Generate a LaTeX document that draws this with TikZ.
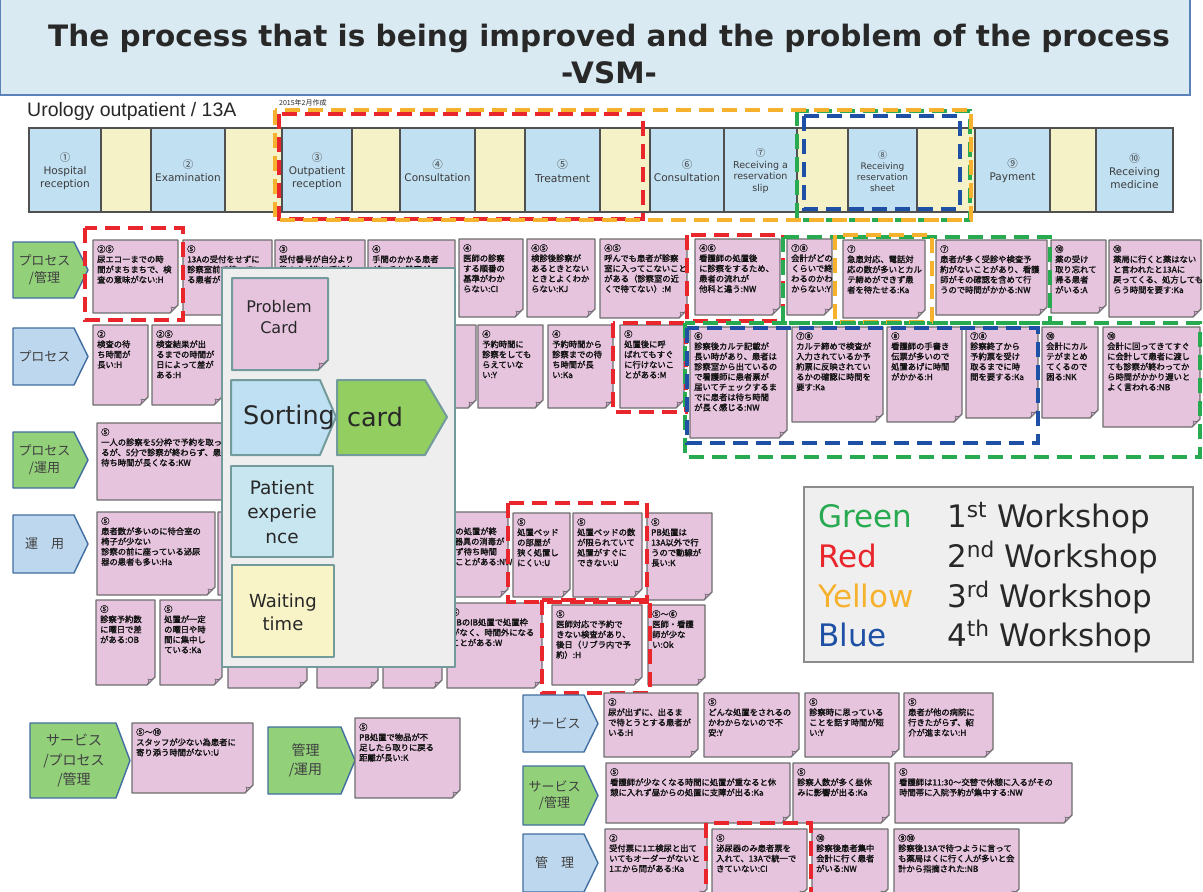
\documentclass[tikz,border=0pt]{standalone}
\usepackage{fontspec}
\usepackage{graphicx}
\setmainfont{DejaVu Sans}
\newfontfamily\jp{Noto Sans CJK JP}
\newfontfamily\jpb[FakeBold=2]{Noto Sans CJK JP}
\newfontfamily\dv{DejaVu Sans}
\newfontfamily\lib{Liberation Sans}
\definecolor{notefill}{RGB}{230,196,222}
\definecolor{notedraw}{RGB}{110,110,110}
\definecolor{foldfill}{RGB}{200,160,200}
\definecolor{notetxt}{RGB}{20,20,20}
\definecolor{pblue}{RGB}{193,224,242}
\definecolor{pyel}{RGB}{246,242,200}
\definecolor{pdraw}{RGB}{80,80,80}
\definecolor{ptxt}{RGB}{60,60,60}
\definecolor{lgreen}{RGB}{146,208,122}
\definecolor{lblue}{RGB}{189,215,238}
\definecolor{lbldraw}{RGB}{65,110,160}
\definecolor{lbltxt}{RGB}{64,64,64}
\definecolor{ovfill}{RGB}{238,238,238}
\definecolor{ovdraw}{RGB}{115,155,155}
\definecolor{sortblue}{RGB}{190,224,242}
\definecolor{cardgreen}{RGB}{146,206,96}
\definecolor{patfill}{RGB}{200,230,240}
\definecolor{waitfill}{RGB}{248,244,200}
\definecolor{titlefill}{RGB}{218,234,243}
\definecolor{titledraw}{RGB}{90,130,185}
\definecolor{legfill}{RGB}{239,239,239}
\definecolor{legdraw}{RGB}{140,140,140}
\definecolor{darktxt}{RGB}{40,40,40}
\definecolor{wgreen}{RGB}{40,170,80}
\definecolor{wred}{RGB}{232,38,43}
\definecolor{worange}{RGB}{246,178,46}
\definecolor{wblue}{RGB}{30,80,165}
\tikzset{
 stknote/.style={fill=notefill,draw=notedraw,line width=1.2pt,line join=round},
 stkfold/.style={fill=foldfill,draw=notedraw,line width=0.6pt,line join=round},
 notetext/.style={anchor=north west,inner sep=0pt,align=left,text=notetxt,font=\jpb\fontsize{8.3}{10.2}\selectfont},
 hl/.style={line width=4.5pt,dash pattern=on 15pt off 8pt},
 lblshape/.style={draw=lbldraw,line width=1.4pt,line join=round},
 lbltext/.style={align=center,text=lbltxt,inner sep=0pt},
 pstyle/.style={draw=pdraw,line width=1.1pt},
 ptext/.style={align=center,text=ptxt,inner sep=0pt},
 titletext/.style={inner sep=0pt,text=darktxt,font=\dv\bfseries\fontsize{29.5}{35}\selectfont},
 legtext/.style={anchor=base west,inner sep=0pt,font=\dv\fontsize{31}{36}\selectfont},
 ovbox/.style={draw=ovdraw,line width=2pt,line join=round},
 ovtext/.style={align=center,text=darktxt,inner sep=0pt},
}
\newcommand{\cn}[1]{{\jp #1}}
% sticky note: name, x1, y1, x2, y2, text
\newcommand{\stk}[6]{%
 \path[stknote] (#2,#3) -- (#4,#3) -- (#4,#5-8) -- (#4-8,#5) -- (#2,#5) -- cycle;
 \path[stkfold] (#4,#5-8) .. controls (#4-3,#5-5) .. (#4-7,#5-6) .. controls (#4-6,#5-3) .. (#4-8,#5) -- cycle;
 \node[notetext] (#1) at (#2+4,#3+5) {#6};
}
% row label: name, x1, y1, x2, y2, fill, text, font sizes
\newcommand{\rlab}[8]{%
 \path[lblshape,fill=#6] (#2,#3) -- (#4-14,#3) -- (#4,{(#3+#5)/2}) -- (#4-14,#5) -- (#2,#5) -- cycle;
 \node[lbltext,font=\jp\fontsize#8\selectfont] (#1) at ({(#2+#4)/2-6},{(#3+#5)/2}) {#7};
}
% process box: name, x1, x2, fill, text, font sizes
\newcommand{\pb}[6]{%
 \draw[pstyle,fill=#4] (#2,128) rectangle (#3,212);
 \node[ptext,font=\dv\fontsize#6\selectfont] (#1) at ({(#2+#3)/2},171) {#5};
}
\newcommand{\yb}[2]{\draw[pstyle,fill=pyel] (#1,128) rectangle (#2,212);}
\begin{document}
\begin{tikzpicture}[x=1pt,y=-1pt]
\useasboundingbox (0,0) rectangle (1203,892);
\clip (0,0) rectangle (1203,892);
\fill[white] (0,0) rectangle (1203,892);

% ---------- title ----------
\draw[fill=titlefill,draw=titledraw,line width=1.5pt] (0,-3) rectangle (1190,95);
\node[titletext,anchor=base] (t1) at (609,46) {The process that is being improved and the problem of the process};
\node[titletext,anchor=base] (t2) at (609,83) {-VSM-};
\node[anchor=west,inner sep=0pt,font=\lib\fontsize{19.5}{22}\selectfont,text=darktxt] (uro) at (27,111) {Urology outpatient / 13A};
\node[anchor=west,inner sep=0pt,font=\jp\fontsize{7}{8}\selectfont,text=darktxt] (date) at (279,103) {2015年2月作成};

% ---------- process row ----------
\pb{p1}{29}{101}{pblue}{\cn{①}\\Hospital\\reception}{{10.5}{13}}
\yb{101}{151}
\pb{p2}{151}{225}{pblue}{\cn{②}\\Examination}{{10.5}{13}}
\yb{225}{282}
\pb{p3}{282}{352}{pblue}{\cn{③}\\Outpatient\\reception}{{10.5}{13}}
\yb{352}{400}
\pb{p4}{400}{475}{pblue}{\cn{④}\\Consultation}{{10.5}{13}}
\yb{475}{525}
\pb{p5}{525}{600}{pblue}{\cn{⑤}\\Treatment}{{10.8}{13.5}}
\yb{600}{650}
\pb{p6}{650}{724}{pblue}{\cn{⑥}\\Consultation}{{10.5}{13}}
\pb{p7}{724}{797}{pblue}{\cn{⑦}\\Receiving a\\reservation\\slip}{{9.5}{11.5}}
\yb{797}{848}
\pb{p8}{848}{917}{pblue}{\cn{⑧}\\Receiving\\reservation\\sheet}{{9}{11}}
\yb{917}{975}
\pb{p9}{975}{1050}{pblue}{\cn{⑨}\\Payment}{{10.5}{13}}
\yb{1050}{1096}
\pb{p10}{1096}{1173}{pblue}{\cn{⑩}\\Receiving\\medicine}{{10.5}{13}}

\draw[hl,wred] (279,114) rectangle (643,219);
\draw[hl,wgreen] (797,111) rectangle (970,220);
\draw[hl,worange] (275,110) rectangle (971,220);
\draw[hl,wblue] (804,116) rectangle (960,209);

% ---------- row labels ----------
\rlab{la}{13}{242}{88}{298}{lgreen}{プロセス\\/管理}{{13}{16.5}}
\rlab{lb}{13}{328}{88}{385}{lblue}{プロセス}{{13}{16.5}}
\rlab{lc}{13}{432}{88}{488}{lgreen}{プロセス\\/運用}{{13}{16.5}}
\rlab{ld}{13}{515}{88}{573}{lblue}{運　用}{{13}{16.5}}

% ---------- row A ----------
\stk{a1}{93}{240}{178}{313}{②⑤\\尿エコーまでの時\\間がまちまちで、検\\査の意味がない:H}
\stk{a2}{183}{240}{272}{315}{⑤\\13Aの受付をせずに\\診察室前で待ってい\\る患者がいる:M}
\stk{a3}{275}{240}{365}{315}{③\\受付番号が自分より\\後の人が先に呼ばれ\\ることがある:Y}
\stk{a4}{368}{240}{455}{315}{④\\手間のかかる患者\\がいると診察が\\遅れる:H}
\stk{a5}{459}{239}{523}{317}{④\\医師の診察\\する順番の\\基準がわか\\らない:CI}
\stk{a6}{527}{239}{595}{317}{④⑤\\検診後診察が\\あるときとない\\ときとよくわか\\らない:KJ}
\stk{a7}{600}{239}{687}{318}{④⑤\\呼んでも患者が診察\\室に入ってこないこと\\がある（診察室の近\\くで待てない）:M}
\stk{a8}{695}{239}{780}{315}{④⑥\\看護師の処置後\\に診察をするため、\\患者の流れが\\他科と違う:NW}
\stk{a9}{787}{239}{832}{315}{⑦⑧\\会計がどの\\くらいで終\\わるのかわ\\からない:Y}
\stk{a10}{843}{240}{925}{318}{⑦\\急患対応、電話対\\応の数が多いとカル\\テ締めができず患\\者を待たせる:Ka}
\stk{a11}{936}{240}{1047}{315}{⑦\\患者が多く受診や検査予\\約がないことがあり、看護\\師がその確認を含めて行\\うので時間がかかる:NW}
\stk{a12}{1051}{240}{1106}{313}{⑩\\薬の受け\\取り忘れて\\帰る患者\\がいる:A}
\stk{a13}{1109}{240}{1201}{317}{⑩\\薬局に行くと薬はない\\と言われたと13Aに\\戻ってくる、処方しても\\らう時間を要す:Ka}

% ---------- row B ----------
\stk{b1}{93}{325}{148}{405}{②\\検査の待\\ち時間が\\長い:H}
\stk{b2}{152}{325}{222}{405}{②⑤\\検査結果が出\\るまでの時間が\\日によって差が\\ある:H}
\stk{b3}{390}{325}{476}{408}{④\\患者が多い時な\\どは長く待つ\\ことがあるか\\ら:Y}
\stk{b4}{478}{325}{543}{408}{④\\予約時間に\\診察をしても\\らえていな\\い:Y}
\stk{b5}{548}{325}{613}{408}{④\\予約時間から\\診察までの待\\ち時間が長\\い:Ka}
\stk{b6}{620}{325}{684}{408}{⑤\\処置後に呼\\ばれてもすぐ\\に行けないこ\\とがある:M}
\stk{b7}{690}{327}{787}{438}{⑥\\診察後カルテ記載が\\長い時があり、患者は\\診察室から出ているの\\で看護師に患者票が\\届いてチェックするま\\でに患者は待ち時間\\が長く感じる:NW}
\stk{b8}{792}{327}{883}{422}{⑦⑧\\カルテ締めで検査が\\入力されているか予\\約票に反映されてい\\るかの確認に時間を\\要す:Ka}
\stk{b9}{887}{327}{962}{422}{⑧\\看護師の手書き\\伝票が多いので\\処置あげに時間\\がかかる:H}
\stk{b10}{966}{327}{1038}{418}{⑦⑧\\診察終了から\\予約票を受け\\取るまでに時\\間を要する:Ka}
\stk{b11}{1042}{327}{1098}{418}{⑩\\会計にカル\\テがまとめ\\てくるので\\困る:NK}
\stk{b12}{1103}{327}{1200}{427}{⑩\\会計に回ってきてすぐ\\に会計して患者に渡し\\ても診察が終わってか\\ら時間がかかり遅いと\\よく言われる:NB}

% ---------- row C ----------
\stk{c1}{97}{423}{300}{500}{⑤\\一人の診察を5分枠で予約を取ってい\\るが、5分で診察が終わらず、患者の\\待ち時間が長くなる:KW}

% ---------- row D ----------
\stk{d1}{97}{512}{215}{595}{⑤\\患者数が多いのに待合室の\\椅子が少ない\\診察の前に座っている泌尿\\器の患者も多い:Ha}
\stk{d2}{218}{512}{300}{595}{⑤}
\stk{d3}{418}{512}{508}{597}{⑤\\前の患者の処置が終\\わっても器具の消毒が\\間に合わず待ち時間\\ができることがある:NW}
\stk{d4}{513}{513}{570}{597}{⑤\\処置ベッド\\の部屋が\\狭く処置し\\にくい:U}
\stk{d5}{573}{513}{642}{597}{⑤\\処置ベッドの数\\が限られていて\\処置がすぐに\\できない:U}
\stk{d6}{647}{513}{712}{600}{⑤\\PB処置は\\13A以外で行\\うので動線が\\長い:K}

% ---------- row E ----------
\stk{e1}{96}{600}{155}{685}{⑤\\診察予約数\\に曜日で差\\がある:OB}
\stk{e2}{160}{600}{222}{685}{⑤\\処置が一定\\の曜日や時\\間に集中し\\ている:Ka}
\stk{e3}{228}{600}{307}{688}{⑤}
\stk{e4}{317}{600}{378}{688}{⑤}
\stk{e5}{383}{600}{442}{688}{⑤}
\stk{e6}{447}{603}{542}{688}{⑤\\PBのIB処置で処置枠\\がなく、時間外になる\\ことがある:W}
\stk{e7}{552}{605}{642}{685}{⑤\\医師対応で予約で\\きない検査があり、\\後日（リブラ内で予\\約）:H}
\stk{e8}{648}{605}{705}{685}{⑤～⑥\\医師・看護\\師が少な\\い:Ok}

% ---------- highlight frames on notes ----------
\draw[hl,wred] (85,228) rectangle (183,320);
\draw[hl,wred] (687,235) rectangle (783,321);
\draw[hl,wgreen] (783,237) rectangle (1050,323);
\draw[hl,worange] (835,235) rectangle (932,322);
\draw[hl,wred] (613,323) rectangle (686,412);
\draw[hl,wgreen] (685,323) rectangle (1200,457);
\draw[hl,wblue] (687,328) rectangle (1038,443);
\draw[hl,wred] (508,503) rectangle (647,602);
\draw[hl,wred] (542,600) rectangle (650,693);

% ---------- overlay panel ----------
\draw[ovbox,fill=ovfill] (222,268) rectangle (455,667);
\path[stknote,draw=ovdraw,line width=2pt] (232,278) -- (328,278) -- (328,360) -- (318,370) -- (232,370) -- cycle;
\path[stkfold] (328,360) .. controls (324,364) .. (319,363) .. controls (320,367) .. (318,370) -- cycle;
\node[ovtext,font=\dv\fontsize{16}{21}\selectfont] (pcard) at (279,317) {Problem\\Card};
\path[ovbox,fill=sortblue] (231,380) -- (320,380) -- (336,417) -- (320,455) -- (231,455) -- cycle;
\node[ovtext,font=\dv\fontsize{25.5}{30}\selectfont] (sort) at (289,417) {Sorting};
\path[ovbox,fill=cardgreen] (337,380) -- (425,380) -- (447,417) -- (425,455) -- (337,455) -- cycle;
\node[ovtext,font=\dv\fontsize{25.5}{30}\selectfont] (card) at (375,417) {card};
\draw[ovbox,fill=patfill] (231,466) rectangle (333,557);
\node[ovtext,font=\dv\fontsize{18.5}{24.5}\selectfont] (pat) at (282,512) {Patient\\experie\\nce};
\draw[ovbox,fill=waitfill] (232,565) rectangle (334,657);
\node[ovtext,font=\dv\fontsize{18}{23}\selectfont] (wait) at (283,612) {Waiting\\time};

% ---------- legend ----------
\draw[fill=legfill,draw=legdraw,line width=1.2pt] (804,487) rectangle (1193,662);
\node[legtext,text=wgreen] (lg1) at (818,527) {Green};
\node[legtext,text=wred] (lg2) at (818,567) {Red};
\node[legtext,text=worange] (lg3) at (818,607) {Yellow};
\node[legtext,text=wblue] (lg4) at (818,646) {Blue};
\node[legtext,text=darktxt] (lw1) at (947,527) {1\textsuperscript{st} Workshop};
\node[legtext,text=darktxt] (lw2) at (947,567) {2\textsuperscript{nd} Workshop};
\node[legtext,text=darktxt] (lw3) at (947,607) {3\textsuperscript{rd} Workshop};
\node[legtext,text=darktxt] (lw4) at (947,646) {4\textsuperscript{th} Workshop};

% ---------- lower left ----------
\rlab{le}{30}{723}{130}{798}{lgreen}{サービス\\/プロセス\\/管理}{{14}{19.5}}
\stk{n1}{132}{723}{253}{793}{⑤～⑩\\スタッフが少ない為患者に\\寄り添う時間がない:U}
\rlab{lf}{268}{727}{355}{794}{lgreen}{管理\\/運用}{{14}{19.5}}
\stk{n2}{355}{718}{460}{798}{⑤\\PB処置で物品が不\\足したら取りに戻る\\距離が長い:K}

% ---------- lower right ----------
\rlab{lg}{523}{695}{598}{752}{lblue}{サービス}{{13}{16.5}}
\stk{s1}{604}{693}{698}{757}{②\\尿が出ずに、出るま\\で待とうとする患者が\\いる:H}
\stk{s2}{704}{693}{799}{757}{⑤\\どんな処置をされるの\\かわからないので不\\安:Y}
\stk{s3}{805}{693}{899}{757}{⑤\\診察時に思っている\\ことを話す時間が短\\い:Y}
\stk{s4}{904}{693}{993}{757}{⑤\\患者が他の病院に\\行きたがらず、紹\\介が進まない:H}
\rlab{lh}{523}{766}{598}{825}{lgreen}{サービス\\/管理}{{13}{16.5}}
\stk{t1}{606}{763}{790}{823}{⑤\\看護師が少なくなる時間に処置が重なると休\\憩に入れず昼からの処置に支障が出る:Ka}
\stk{t2}{793}{763}{889}{823}{⑤\\診察人数が多く昼休\\みに影響が出る:Ka}
\stk{t3}{895}{763}{1072}{823}{⑤\\看護師は11:30～交替で休憩に入るがその\\時間帯に入院予約が集中する:NW}
\rlab{li}{523}{834}{598}{892}{lblue}{管　理}{{13}{16.5}}
\stk{u1}{605}{829}{707}{897}{②\\受付票に1エ検尿と出て\\いてもオーダーがないと\\1エから問がある:Ka}
\stk{u2}{712}{829}{807}{897}{⑤\\泌尿器のみ患者票を\\入れて、13Aで統一で\\きていない:CI}
\stk{u3}{812}{829}{888}{897}{⑩\\診察後患者集中\\会計に行く患者\\がいる:NW}
\stk{u4}{894}{829}{1019}{897}{⑨⑩\\診察後13Aで待つように言って\\も薬局はくに行く人が多いと会\\計から指摘された:NB}
\draw[hl,wred] (706,823) rectangle (811,902);
\end{tikzpicture}
\end{document}
